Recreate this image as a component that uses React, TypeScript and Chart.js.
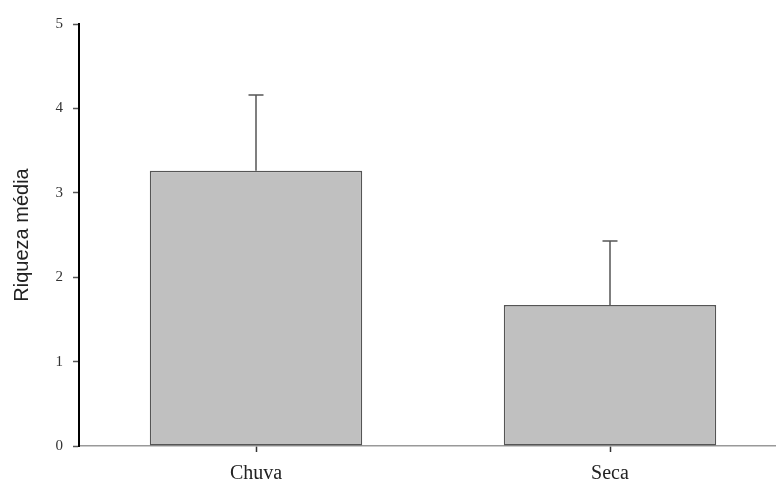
import React, { useEffect, useRef } from "react";
import { Chart, registerables } from "chart.js";

Chart.register(...registerables);

const categories = ["Chuva", "Seca"];
const means = [3.26, 1.67];
const errors = [0.9, 0.76];
const yTicks = [0, 1, 2, 3, 4, 5];

const errorBarPlugin = {
  id: "errorBars",
  afterDatasetsDraw(chart: any) {
    const ctx = chart.ctx;
    const meta = chart.getDatasetMeta(0);
    const yScale = chart.scales.y;
    ctx.save();
    ctx.strokeStyle = "#555555";
    ctx.lineWidth = 1.5;
    meta.data.forEach((bar: any, i: number) => {
      const x = bar.x;
      const yBase = yScale.getPixelForValue(means[i]);
      const yTop = yScale.getPixelForValue(means[i] + errors[i]);
      ctx.beginPath();
      ctx.moveTo(x, yBase);
      ctx.lineTo(x, yTop);
      ctx.moveTo(x - 7.5, yTop);
      ctx.lineTo(x + 7.5, yTop);
      ctx.stroke();
    });
    ctx.restore();
  },
};

export default function App() {
  const ref = useRef<HTMLCanvasElement>(null);
  useEffect(() => {
    if (!ref.current) return;
    const chart = new Chart(ref.current, {
      type: "bar",
      data: {
        labels: categories,
        datasets: [
          {
            data: means,
            backgroundColor: "#c0c0c0",
            borderColor: "#555555",
            borderWidth: 1.5,
            borderSkipped: false,
            categoryPercentage: 1,
            barPercentage: 0.6,
          },
        ],
      },
      plugins: [errorBarPlugin],
      options: {
        responsive: false,
        animation: false,
        layout: { padding: { top: 24, right: 3, left: 0, bottom: 0 } },
        plugins: { legend: { display: false }, tooltip: { enabled: false } },
        scales: {
          x: {
            offset: true,
            grid: {
              offset: false,
              drawOnChartArea: false,
              drawTicks: true,
              tickLength: 6,
              tickColor: "#333333",
              tickWidth: 1.5,
            },
            border: { color: "#999999", width: 1.5 },
            ticks: {
              color: "#222222",
              padding: 10,
              font: { family: "Liberation Serif", size: 20 },
            },
            afterFit(scale: any) {
              scale.height = 38;
            },
          },
          y: {
            min: 0,
            max: 5,
            afterBuildTicks(scale: any) {
              scale.ticks = yTicks.map((v) => ({ value: v }));
            },
            grid: {
              drawOnChartArea: false,
              drawTicks: true,
              tickLength: 6,
              tickColor: "#555555",
              tickWidth: 1.5,
            },
            border: { color: "#000000", width: 2 },
            ticks: {
              color: "#333333",
              padding: 10,
              font: { family: "Liberation Serif", size: 15 },
            },
            title: {
              display: true,
              text: "Riqueza média",
              color: "#222222",
              font: { family: "Liberation Sans", size: 20 },
              padding: { top: 10, bottom: 0 },
            },
            afterFit(scale: any) {
              scale.width = 79;
            },
          },
        },
      },
    });
    return () => chart.destroy();
  }, []);
  return (
    <div
      style={{
        position: "fixed",
        left: 0,
        top: 0,
        width: 776,
        height: 484,
        overflow: "hidden",
        background: "#ffffff",
      }}
    >
      <canvas ref={ref} width={790} height={484} style={{ width: 790, height: 484, display: "block" }} />
    </div>
  );
}
